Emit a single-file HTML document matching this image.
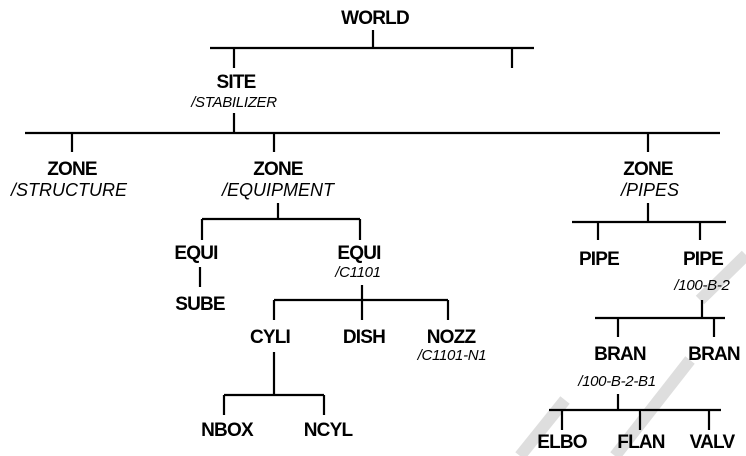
<!DOCTYPE html>
<html><head><style>
html,body{margin:0;padding:0;background:#fff}
svg{display:block}
.b{font:bold 19px "Liberation Sans",sans-serif;letter-spacing:-0.8px;fill:#000}
.i{font:italic 18px "Liberation Sans",sans-serif;letter-spacing:0px;fill:#000}
.s{font:italic 15px "Liberation Sans",sans-serif;letter-spacing:-0.3px;fill:#000}
</style></head><body>
<svg width="746" height="456" viewBox="0 0 746 456" xmlns="http://www.w3.org/2000/svg">
<g stroke="#dedede" stroke-width="12" fill="none">
<path d="M520 456 L565 400"/>
<path d="M615 456 L690 360"/>
<path d="M700 300 L746 255"/>
</g>
<g stroke="#000" stroke-width="2.2" fill="none">
<path d="M373 30V48M210 48H534M234 48V68M512 48V68"/>
<path d="M234 113V133M25 133H720M72 133V152M274 133V152M648 133V152"/>
<path d="M278 203V219M202 219H360M202 219V240M360 219V240"/>
<path d="M200 267V287M362 285V300M274 300H448M274 300V320M362 300V320M448 300V320"/>
<path d="M274 352V395M224 395H324M224 395V415M324 395V415"/>
<path d="M648 203V222M572 222H726M598 222V240M700 222V240"/>
<path d="M702 300V318M595 318H725M618 318V337M714 318V337"/>
<path d="M618 394V410M549 410H721M562 410V430M640 410V430M709 410V430"/>
</g>
<g class="b" text-anchor="middle">
<text x="375" y="24">WORLD</text>
<text x="236" y="88">SITE</text>
<text x="72" y="175">ZONE</text>
<text x="278" y="175">ZONE</text>
<text x="648" y="175">ZONE</text>
<text x="196" y="259">EQUI</text>
<text x="359" y="259">EQUI</text>
<text x="200" y="310">SUBE</text>
<text x="270" y="343">CYLI</text>
<text x="364" y="343">DISH</text>
<text x="451" y="343">NOZZ</text>
<text x="227" y="436">NBOX</text>
<text x="328" y="436">NCYL</text>
<text x="599" y="265">PIPE</text>
<text x="703" y="265">PIPE</text>
<text x="620" y="360">BRAN</text>
<text x="714" y="360">BRAN</text>
<text x="562" y="448">ELBO</text>
<text x="641" y="448">FLAN</text>
<text x="712" y="448">VALV</text>
</g>
<g class="i" text-anchor="middle">
<text x="69" y="196">/STRUCTURE</text>
<text x="278" y="196">/EQUIPMENT</text>
<text x="650" y="196">/PIPES</text>
</g>
<g class="s" text-anchor="middle">
<text x="234" y="107">/STABILIZER</text>
<text x="358" y="277">/C1101</text>
<text x="452" y="360">/C1101-N1</text>
<text x="702" y="290">/100-B-2</text>
<text x="617" y="386">/100-B-2-B1</text>
</g>
</svg>
</body></html>
